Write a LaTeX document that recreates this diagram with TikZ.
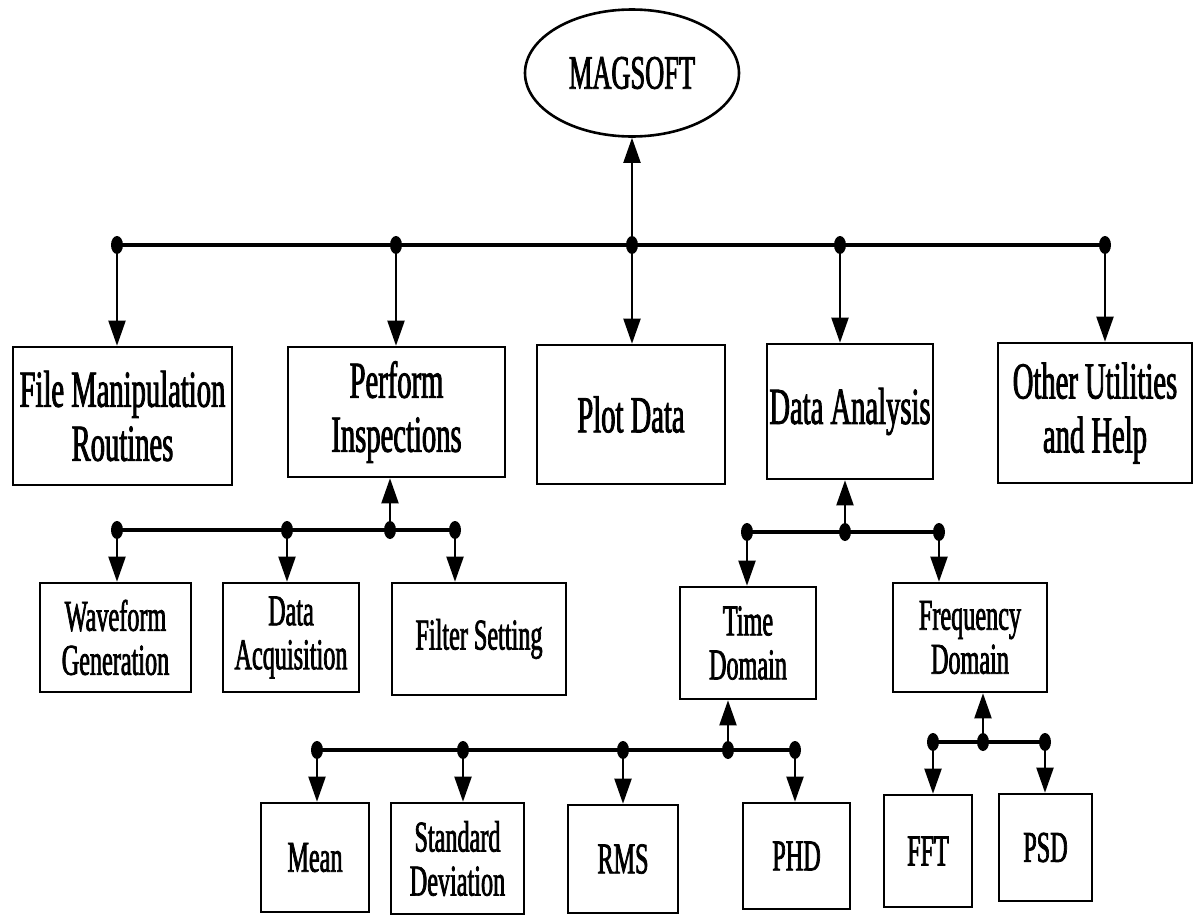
\documentclass[tikz,border=0pt]{standalone}
\usepackage{fontspec}
\setmainfont{Liberation Serif}[FakeStretch=0.55,FakeBold=1.6]
\usetikzlibrary{arrows.meta,shapes.geometric}

\tikzset{box/.style={draw, line width=1.3pt, align=center, inner sep=0pt, font=\fontsize{26}{27}\selectfont}}
\tikzset{subbox/.style={box, font=\fontsize{22}{22}\selectfont}}
\tikzset{wh/.style 2 args={minimum width=#1*0.5pt, minimum height=#2*0.5pt}}
\tikzset{dot/.style={ellipse, fill=black, inner sep=0pt, minimum width=6pt, minimum height=9pt}}
\tikzset{bus/.style={line width=1.8pt}}
\tikzset{arr/.style={line width=1pt, -{Triangle[length=12.5pt,width=8.5pt]}}}

\begin{document}
\begin{tikzpicture}[x=0.5pt, y=-0.5pt]
    \useasboundingbox (0,0) rectangle (1196,916);

    % root
    \node[ellipse, draw, line width=1.3pt, inner sep=0pt, wh={214}{127}, font=\fontsize{24}{24}\selectfont] (magsoft) at (632,73) {MAGSOFT};

    % first level
    \node[box, wh={219}{138}] (file)     at (122.5,416) {File Manipulation\\Routines};
    \node[box, wh={217}{130}] (perform)  at (396.5,412) {Perform\\Inspections};
    \node[box, wh={188}{139}] (plot)     at (631,414.5) {Plot Data};
    \node[box, wh={166}{135}] (analysis) at (850,411.5) {Data Analysis};
    \node[box, wh={194}{140}] (other)    at (1095,413)  {Other Utilities\\and Help};

    \foreach \x [count=\i] in {117,396,632,840,1105}
        \node[dot] (t\i) at (\x,245) {};
    \draw[bus] (t1.center) -- (t5.center);
    \foreach \i/\b in {1/file,2/perform,3/plot,4/analysis,5/other}
        \draw[arr] (t\i) -- (t\i |- \b.north);
    \draw[arr] (t3) -- (magsoft.south);

    % inspections
    \node[subbox, wh={151}{109}] (wave)   at (115.5,637.5) {Waveform\\Generation};
    \node[subbox, wh={136}{109}] (acq)    at (291,637.5)   {Data\\Acquisition};
    \node[subbox, wh={174}{112}] (filter) at (479,639)     {Filter Setting};

    \foreach \x [count=\i] in {117,287,390,455}
        \node[dot] (p\i) at (\x,530) {};
    \draw[bus] (p1.center) -- (p4.center);
    \draw[arr] (p3) -- (p3 |- perform.south);
    \foreach \i/\b in {1/wave,2/acq,4/filter}
        \draw[arr] (p\i) -- (p\i |- \b.north);

    % analysis
    \node[subbox, wh={136}{112}] (time) at (748,643)   {Time\\Domain};
    \node[subbox, wh={154}{109}] (freq) at (970,637.5) {Frequency\\Domain};

    \foreach \x [count=\i] in {747,845,939}
        \node[dot] (a\i) at (\x,532) {};
    \draw[bus] (a1.center) -- (a3.center);
    \draw[arr] (a2) -- (a2 |- analysis.south);
    \draw[arr] (a1) -- (a1 |- time.north);
    \draw[arr] (a3) -- (a3 |- freq.north);

    % time domain
    \node[subbox, wh={108}{109}] (mean) at (315,857.5) {Mean};
    \node[subbox, wh={133}{111}] (std)  at (457.5,858.5) {Standard\\Deviation};
    \node[subbox, wh={110}{108}] (rms)  at (623,859) {RMS};
    \node[subbox, wh={107}{106}] (phd)  at (796.5,856) {PHD};

    \foreach \x [count=\i] in {317,463,623,728,795}
        \node[dot] (m\i) at (\x,750) {};
    \draw[bus] (m1.center) -- (m5.center);
    \draw[arr] (m4) -- (m4 |- time.south);
    \foreach \i/\b in {1/mean,2/std,3/rms,5/phd}
        \draw[arr] (m\i) -- (m\i |- \b.north);

    % frequency domain
    \node[subbox, wh={88}{112}] (fft) at (928,851)    {FFT};
    \node[subbox, wh={93}{107}] (psd) at (1045.5,847.5) {PSD};

    \foreach \x [count=\i] in {933,983,1045}
        \node[dot] (f\i) at (\x,742) {};
    \draw[bus] (f1.center) -- (f3.center);
    \draw[arr] (f2) -- (f2 |- freq.south);
    \draw[arr] (f1) -- (f1 |- fft.north);
    \draw[arr] (f3) -- (f3 |- psd.north);

\end{tikzpicture}
\end{document}
